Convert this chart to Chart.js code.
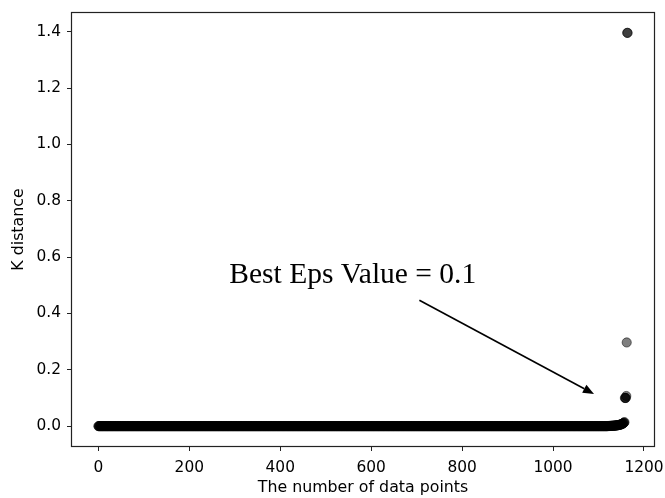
<!DOCTYPE html>
<html>
<head>
<meta charset="utf-8">
<script src="https://cdn.jsdelivr.net/npm/chart.js@4.4.0/dist/chart.umd.min.js"></script>
<style>
  html, body { margin: 0; padding: 0; background: #fff; }
  canvas { display: block; }
</style>
</head>
<body>
<canvas id="kdist" width="665" height="498"></canvas>
<script>
"use strict"

// sorted k-distances: a long flat run at zero, then a slow rise and a few outliers
const flatCount = 1120;
const flatValue = 0.0;
const risingTail = [
    0.0002, 0.0003, 0.0004, 0.0005, 0.0006, 0.0007, 0.0008, 0.0009, 0.0010, 0.0011,
    0.0012, 0.0013, 0.0014, 0.0015, 0.0016, 0.0018, 0.0020, 0.0022, 0.0024, 0.0026,
    0.0028, 0.0030, 0.0033, 0.0036, 0.0039, 0.0042, 0.0046, 0.0050, 0.0055, 0.0060,
    0.0066, 0.0072, 0.0080, 0.0088, 0.0098, 0.0110, 0.0125, 0.0140
];
const outliers = [0.100, 0.100, 0.100, 0.107, 0.297, 1.396, 1.396];

// axis ranges and tick labels
const xRange = [-58, 1222];
const yRange = [-0.0705, 1.4665];
const xTicks = [0, 200, 400, 600, 800, 1000, 1200];
const yTicks = [0.0, 0.2, 0.4, 0.6, 0.8, 1.0, 1.2, 1.4];

// annotation, in data units
const noteText = "Best Eps Value = 0.1";
const noteAt = [288, 0.509];
const arrowFrom = [706, 0.447];
const arrowTo = [1090, 0.114];

const kDistances = new Array(flatCount).fill(flatValue).concat(risingTail, outliers);
const points = kDistances.map((v, i) => ({x: i, y: v}));

const INK = "#222";
const TICK_FONT = {family: "'DejaVu Sans'", size: 15.4};
const TITLE_FONT = {family: "'DejaVu Sans'", size: 15.8};

// frame around the plot area plus the text/arrow annotation
const annotatePlugin = {
    id: "annotate",
    afterDraw(chart){
        const ctx = chart.ctx;
        const a = chart.chartArea;
        const sx = chart.scales.x;
        const sy = chart.scales.y;
        ctx.save();

        ctx.strokeStyle = INK;
        ctx.lineWidth = 1.2;
        ctx.strokeRect(a.left - 0.5, a.top - 0.5, a.right - a.left + 1, a.bottom - a.top + 1);

        // label
        ctx.fillStyle = "#000";
        ctx.font = "29.5px 'Liberation Serif'";
        ctx.textBaseline = "alphabetic";
        ctx.textAlign = "left";
        ctx.fillText(noteText, sx.getPixelForValue(noteAt[0]), sy.getPixelForValue(noteAt[1]));

        // arrow shaft and head
        const x0 = sx.getPixelForValue(arrowFrom[0]);
        const y0 = sy.getPixelForValue(arrowFrom[1]);
        const x1 = sx.getPixelForValue(arrowTo[0]);
        const y1 = sy.getPixelForValue(arrowTo[1]);
        const ang = Math.atan2(y1 - y0, x1 - x0);
        const headLen = 11, headHalf = 4.5;
        const bx = x1 - headLen * Math.cos(ang);
        const by = y1 - headLen * Math.sin(ang);
        ctx.strokeStyle = "#000";
        ctx.lineWidth = 1.6;
        ctx.beginPath();
        ctx.moveTo(x0, y0);
        ctx.lineTo(bx, by);
        ctx.stroke();
        ctx.beginPath();
        ctx.moveTo(x1, y1);
        ctx.lineTo(bx + headHalf * Math.sin(ang), by - headHalf * Math.cos(ang));
        ctx.lineTo(bx - headHalf * Math.sin(ang), by + headHalf * Math.cos(ang));
        ctx.closePath();
        ctx.fillStyle = "#000";
        ctx.fill();

        ctx.restore();
    }
};

new Chart(document.getElementById("kdist"), {
    type: "scatter",
    data: {
        datasets: [{
            data: points,
            backgroundColor: "rgba(0,0,0,0.5)",
            borderColor: "rgba(0,0,0,0.5)",
            borderWidth: 1,
            pointRadius: 4.6,
            pointHoverRadius: 4.6
        }]
    },
    plugins: [annotatePlugin],
    options: {
        responsive: false,
        animation: false,
        events: [],
        layout: {padding: {left: 0, top: 13, right: 11, bottom: 0}},
        plugins: {legend: {display: false}, tooltip: {enabled: false}},
        scales: {
            x: {
                type: "linear",
                min: xRange[0],
                max: xRange[1],
                afterBuildTicks(scale){ scale.ticks = xTicks.map(v => ({value: v})); },
                afterFit(scale){
                    // keep the plot box fixed; the end labels may run into the margin
                    scale.height = 52;
                    scale.paddingLeft = 0;
                    scale.paddingRight = 0;
                },
                ticks: {
                    color: "#000",
                    font: TICK_FONT,
                    padding: 8,
                    maxRotation: 0,
                    callback: v => String(v)
                },
                grid: {drawOnChartArea: false, drawTicks: true, tickLength: 5, color: INK, lineWidth: 1},
                border: {display: false},
                title: {
                    display: true,
                    text: "The number of data points",
                    color: "#000",
                    font: TITLE_FONT,
                    padding: {top: 0, bottom: 0.5}
                }
            },
            y: {
                type: "linear",
                min: yRange[0],
                max: yRange[1],
                afterBuildTicks(scale){ scale.ticks = yTicks.map(v => ({value: v})); },
                afterFit(scale){
                    scale.width = 72;
                    scale.paddingTop = 0;
                    scale.paddingBottom = 0;
                },
                ticks: {
                    color: "#000",
                    font: TICK_FONT,
                    padding: 6,
                    callback: v => Number(v).toFixed(1)
                },
                grid: {drawOnChartArea: false, drawTicks: true, tickLength: 5, color: INK, lineWidth: 1},
                border: {display: false},
                title: {
                    display: true,
                    text: "K distance",
                    color: "#000",
                    font: TITLE_FONT,
                    padding: {top: 9, bottom: 0}
                }
            }
        }
    }
});
</script>
</body>
</html>
